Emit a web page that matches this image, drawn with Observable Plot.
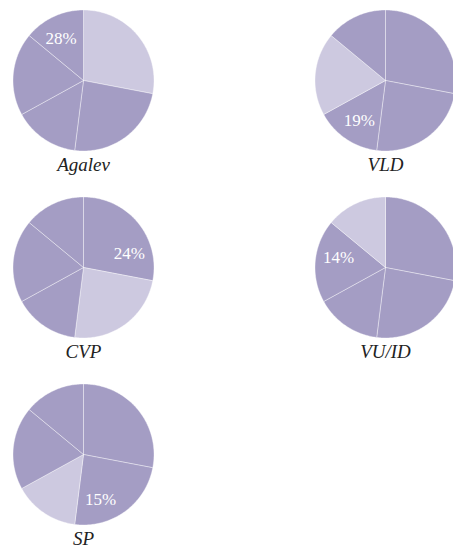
<!DOCTYPE html>
<html><head><meta charset="utf-8">
<script src="https://cdn.jsdelivr.net/npm/d3@7"></script>
<script src="https://cdn.jsdelivr.net/npm/@observablehq/plot@0.6"></script>
<style>body{margin:0;background:#fff}</style>
</head><body><div id="chart"></div>
<script>
// Data: vote shares (slices in clockwise order from 12 o'clock)
const parties = ["Agalev", "CVP", "SP", "VLD", "VU/ID"];
const shares = [28, 24, 15, 19, 14];
const shareLabels = ["28%", "24%", "15%", "19%", "14%"];
// Panel reading order (two columns)
const panelOrder = ["Agalev", "VLD", "CVP", "VU/ID", "SP"];

const baseColor = "#a49dc4";
const highlightColor = "#cdc9e0";

// Layout in pixels (converted to pie-radius units)
const W = 453, H = 548;
const R = 70.5;                 // pie radius in px = 1 unit
const firstCx = 83, firstCy = 80, colGap = 302, rowGap = 187;
const labelShift = -28 * Math.PI / 180, labelRadius = 0.68;
const serif = "'Times New Roman', 'Liberation Serif', Times, serif";

const total = d3.sum(shares);
const cum = d3.cumsum(shares);
const starts = shares.map((s, i) => (cum[i] - s) / total * 2 * Math.PI);
const ends = cum.map(c => c / total * 2 * Math.PI);

const wedgePts = [], pctLabels = [], nameLabels = [];
panelOrder.forEach((p, k) => {
  const col = k % 2, row = Math.floor(k / 2);
  const cx = (col * colGap) / R, cy = (row * rowGap) / R;
  const hi = parties.indexOf(p);
  parties.forEach((q, j) => {
    const id = p + "-" + q;
    const fillColor = j === hi ? highlightColor : baseColor;
    const a0 = starts[j], a1 = ends[j];
    const n = Math.max(2, Math.ceil((a1 - a0) / (Math.PI / 180)));
    wedgePts.push({id, fillColor, x: cx, y: cy});
    for (let t = 0; t <= n; t++) {
      const a = a0 + (a1 - a0) * t / n;
      wedgePts.push({id, fillColor, x: cx + Math.sin(a), y: cy - Math.cos(a)});
    }
    wedgePts.push({id, fillColor, x: cx, y: cy});
  });
  const la = starts[hi] + labelShift;
  pctLabels.push({x: cx + labelRadius * Math.sin(la), y: cy - labelRadius * Math.cos(la), text: shareLabels[hi]});
  nameLabels.push({x: cx, y: cy + 84 / R, text: p});
});

const chart = Plot.plot({
  width: W, height: H,
  margin: 0,
  x: {domain: [-firstCx / R, (W - firstCx) / R], axis: null},
  y: {domain: [(H - firstCy) / R, -firstCy / R], axis: null},
  color: {type: "identity"},
  marks: [
    Plot.line(wedgePts, {x: "x", y: "y", z: "id", fill: "fillColor", stroke: "white",
      strokeWidth: 0.7, strokeOpacity: 0.55, curve: "linear"}),
    Plot.text(pctLabels, {x: "x", y: "y", text: "text", fill: "white", fontSize: 17,
      fontFamily: serif}),
    Plot.text(nameLabels, {x: "x", y: "y", text: "text", fill: "#222", fontSize: 19,
      fontStyle: "italic", fontFamily: serif})
  ]
});
document.getElementById("chart").appendChild(chart);
</script>
</body></html>
